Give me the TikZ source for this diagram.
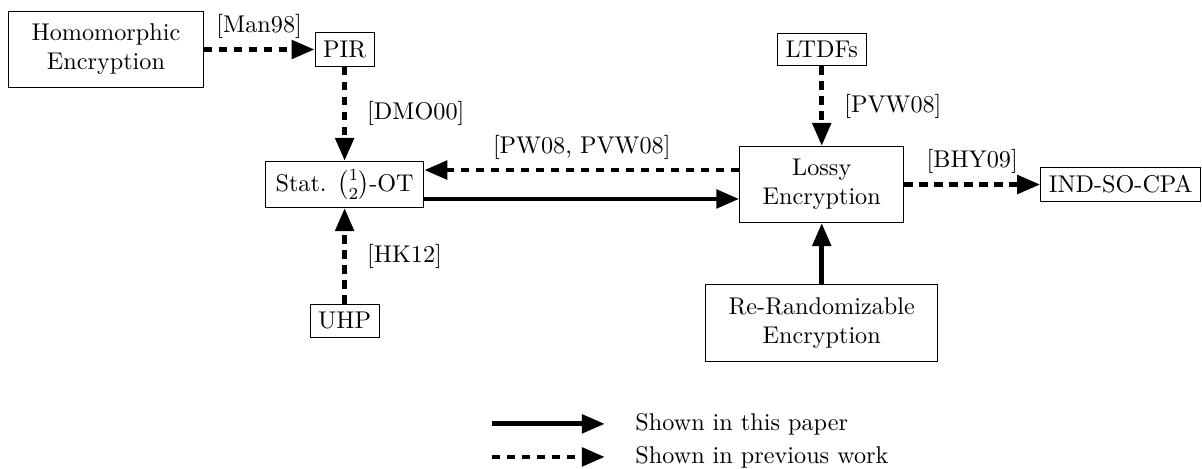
\documentclass[tikz,border=0pt]{standalone}
\usepackage{amsmath}
\usepackage{tikz}
\usetikzlibrary{arrows.meta,positioning}

\begin{document}
\begin{tikzpicture}[node distance=1.37cm and 1.61cm, box/.style={draw,align=center}, bigbox/.style={box,inner xsep=9.5pt,inner ysep=5.3pt}, link/.style={line width=2pt,-{Triangle[length=9.5pt,width=7.5pt]}}, prev/.style={link,dash pattern=on 3.5pt off 2.7pt}]
\useasboundingbox (0,0) rectangle (17.46,-6.80);
\node[bigbox] (homenc) at (1.539,-0.719) {Homomorphic\\Encryption};
\node[box,right=of homenc] (pir) {PIR};
\node[box,below=of pir,inner xsep=4.2pt] (ot) {Stat. $\binom{1}{2}$-OT};
\node[box,below=1.39cm of ot] (uhp) {UHP};
\node[bigbox,right=4.575cm of ot] (lossy) {Lossy\\Encryption};
\node[box,right=1.975cm of lossy] (ind) {IND-SO-CPA};
\node[bigbox,below=0.886cm of lossy] (rerand) {Re-Randomizable\\Encryption};
\node[box] (ltdf) at (pir -| lossy) {LTDFs};
\draw[prev] (homenc) -- node[above]{[Man98]} (pir); \draw[prev] (pir) -- node[right=5pt]{[DMO00]} (ot); \draw[prev] (uhp) -- node[right=5pt]{[HK12]} (ot);
\draw[prev] (ltdf) -- node[right=5pt]{[PVW08]} (lossy); \draw[prev] (lossy) -- node[above]{[BHY09]} (ind);
\draw[prev] ([yshift=2.1mm]lossy.west) -- node[above]{[PW08, PVW08]} ([yshift=2.1mm]ot.east);
\draw[link] ([yshift=-2.1mm]ot.east) -- ([yshift=-2.1mm]lossy.west); \draw[link] (rerand) -- (lossy);
% legend
\coordinate (sa) at (7.145,-6.157); \coordinate (sb) at (8.786,-6.157);
\coordinate (da) at (7.145,-6.637); \coordinate (db) at (8.786,-6.637);
\draw[link] (sa) -- (sb); \draw[prev] (da) -- (db);
\node[right=0.32cm of sb] (shown) {Shown in this paper};
\node[right=0.32cm of db] (prevw) {Shown in previous work};
\end{tikzpicture}
\end{document}
